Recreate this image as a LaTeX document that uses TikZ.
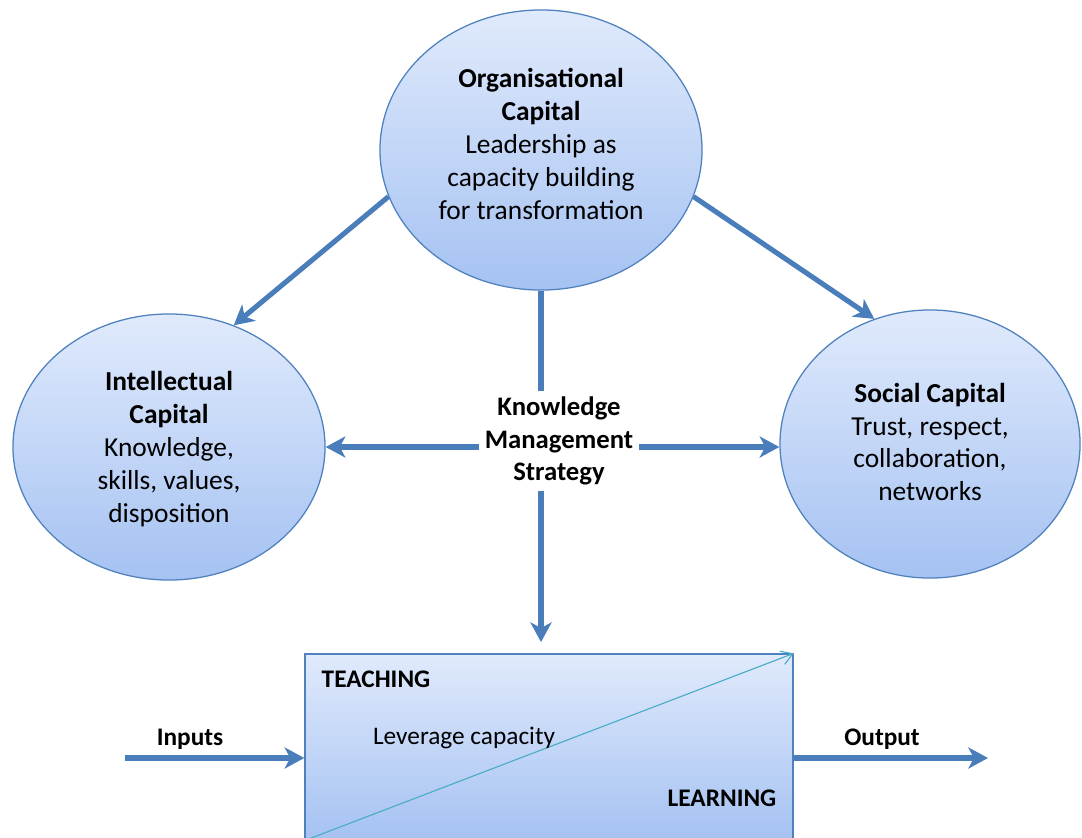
\documentclass[tikz,border=0pt]{standalone}
\usepackage{fontspec}
\setmainfont{Carlito}
\usetikzlibrary{shapes.geometric, arrows.meta, positioning}
\definecolor{capline}{HTML}{4F81BD}
\definecolor{arrowblue}{HTML}{4A7EBB}
\definecolor{captop}{HTML}{E0EAFC}
\definecolor{capbot}{HTML}{A5C2F2}
\definecolor{levercol}{HTML}{4BACC6}

\tikzset{
	capital/.style={ellipse, draw=capline, line width=0.9pt, top color=captop, bottom color=capbot,
		inner sep=0pt},
	captext/.style={align=center, inner sep=0pt, font=\fontsize{19.5}{23.4}\selectfont},
	bigarrow/.style={draw=arrowblue, line width=3.6pt, -{Stealth[length=14pt,width=15pt,inset=4pt]}},
	lbl/.style={font=\fontsize{18}{22}\selectfont, align=center, inner sep=0pt},
	boldlbl/.style={lbl, font=\fontsize{18}{22}\selectfont\bfseries},
}

\begin{document}
\begin{tikzpicture}[x=0.025cm, y=-0.025cm]
			\useasboundingbox (0,0) rectangle (1082,837);
			
			% the three capitals
			\node [capital, minimum width=8.05cm, minimum height=7cm] (org) at (541,150) {};
			\node [captext] (orgtext) at (541,144)
			{\textbf{Organisational}\\ \textbf{Capital}\\ Leadership as\\ capacity building\\ for transformation};
			\node [capital, minimum width=7.8cm, minimum height=6.65cm] (int) at (169,447) {};
			\node [captext] (inttext) at (169,449)
			{\textbf{Intellectual}\\ \textbf{Capital}\\ Knowledge,\\ skills, values,\\ disposition};
			\node [capital, minimum width=7.5cm, minimum height=6.7cm] (soc) at (930,444) {};
			\node [captext] (soctext) at (930,442)
			{\textbf{Social Capital}\\ Trust, respect,\\ collaboration,\\ networks};
			
			% teaching / learning box
			\node [rectangle, draw=capline, line width=0.9pt, top color=captop, bottom color=capbot,
			minimum width=12.2cm, minimum height=4.65cm] (box) at (549,747) {};
			\draw [levercol, line width=0.8pt, -{Straight Barb[length=8pt,width=10pt]}] (box.south west) -- (box.north east);
			\node [boldlbl] (teach) at (376,679) {TEACHING};
			\node [lbl] (lever) at (464,738) {Leverage capacity};
			\node [boldlbl] (learn) at (722,798) {LEARNING};
			
			% strategy in the middle
			\draw [bigarrow, shorten >=8pt] (org.south) -- (org.south |- box.north);
			\node [captext, fill=white, inner sep=4pt, font=\fontsize{19}{23}\selectfont\bfseries] (kms) at (559,441)
			{Knowledge\\ Management\\ Strategy};
			\draw [bigarrow] (kms.west |- int) -- (int.east);
			\draw [bigarrow] (kms.east |- int) -- (soc.west |- int);
			\draw [bigarrow] (org.197) -- (int.62);
			\draw [bigarrow] (org.343) -- (soc.114);
			
			% inputs and output
			\coordinate (inp) at (125,758);
			\coordinate (outp) at (988,758);
			\draw [bigarrow] (inp) -- (box.west |- inp);
			\draw [bigarrow] (box.east |- outp) -- (outp);
			\node [boldlbl] (inlbl) at (190,739) {Inputs};
			\node [boldlbl] (outlbl) at (882,739) {Output};
\end{tikzpicture}
\end{document}
